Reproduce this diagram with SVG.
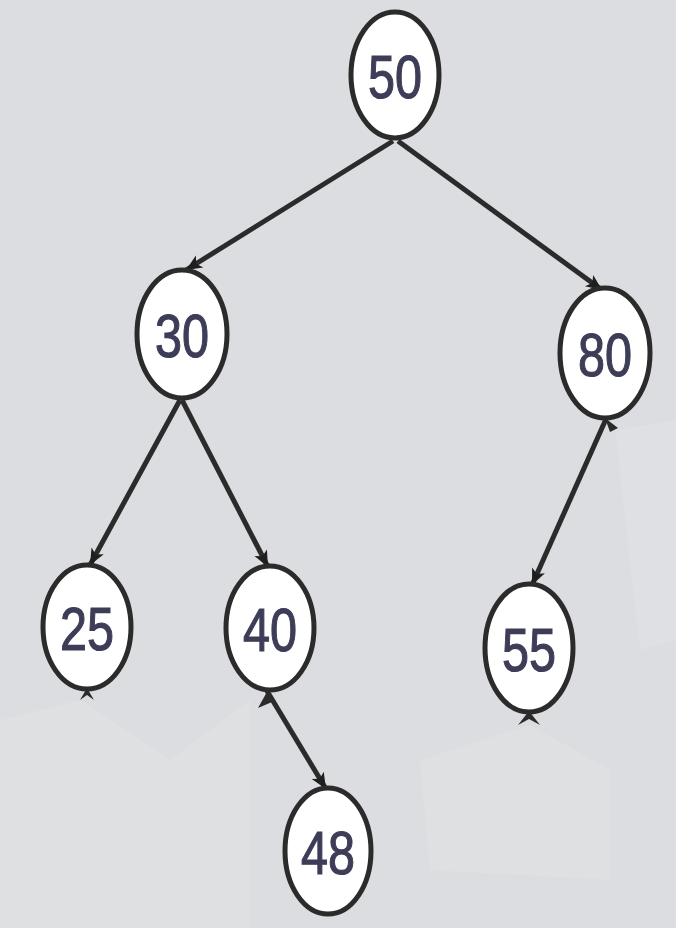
<svg xmlns="http://www.w3.org/2000/svg" width="676" height="928" viewBox="0 0 676 928">
<defs>
<style>
.node ellipse{fill:#ffffff;stroke:#2b2b2b;stroke-width:5}
.node text{font-family:"Liberation Sans",Arial,sans-serif;font-size:62px;fill:#3d3d58;stroke:#3d3d58;stroke-width:1.2;text-anchor:middle}
.edge{stroke:#2b2b2b;stroke-width:5;fill:none;marker-end:url(#arr)}
.stub{fill:#2b2b2b}
</style>
<marker id="arr" markerUnits="userSpaceOnUse" markerWidth="20" markerHeight="20" viewBox="0 0 20 20" refX="18" refY="10" orient="auto">
<path d="M2,3 L18,10 L2,17 L6,10 Z" fill="#1e1e1e"/>
</marker>
</defs>
<rect width="676" height="928" fill="#dcdde0"/>
<g id="smudges" fill="#e4e5e7">
<path d="M0,720 L80,700 L170,760 L250,700 L250,928 L0,928 Z" opacity="0.4"/>
<path d="M420,760 L530,725 L610,770 L610,880 L430,870 Z" opacity="0.4"/>
<path d="M615,430 L676,420 L676,640 L640,650 Z" opacity="0.35"/>
</g>
<g id="connectors">
<line class="edge" x1="393" y1="141" x2="186" y2="270"/>
<line class="edge" x1="398" y1="141" x2="602" y2="290"/>
<line class="edge" x1="180" y1="400" x2="90" y2="565"/>
<line class="edge" x1="182" y1="400" x2="268" y2="567"/>
<line class="edge" x1="606" y1="419" x2="532" y2="585"/>
<line class="edge" x1="267" y1="691" x2="326" y2="789"/>
</g>
<g id="stubs">
<path class="stub" d="M80,700 L87,688 L94,700 L87,695 Z"/>
<path class="stub" d="M258,708 L268,690 L272,702 Z"/>
<path class="stub" d="M518,725 L529,711 L540,725 L529,719 Z"/>
<path class="stub" d="M605,418 L618,428 L610,432 Z"/>
</g>
<g id="n50" class="node"><ellipse cx="395" cy="75" rx="44" ry="63"/><text x="395" y="98" textLength="54" lengthAdjust="spacingAndGlyphs">50</text></g>
<g id="n30" class="node"><ellipse cx="182" cy="334" rx="45" ry="64"/><text x="182" y="357" textLength="54" lengthAdjust="spacingAndGlyphs">30</text></g>
<g id="n80" class="node"><ellipse cx="605" cy="353" rx="45" ry="65"/><text x="605" y="376" textLength="54" lengthAdjust="spacingAndGlyphs">80</text></g>
<g id="n25" class="node"><ellipse cx="87" cy="627" rx="44" ry="62"/><text x="87" y="650" textLength="54" lengthAdjust="spacingAndGlyphs">25</text></g>
<g id="n40" class="node"><ellipse cx="270" cy="628" rx="44" ry="62"/><text x="270" y="651" textLength="54" lengthAdjust="spacingAndGlyphs">40</text></g>
<g id="n55" class="node"><ellipse cx="529" cy="648" rx="44" ry="64"/><text x="529" y="671" textLength="54" lengthAdjust="spacingAndGlyphs">55</text></g>
<g id="n48" class="node"><ellipse cx="328" cy="851" rx="43" ry="63"/><text x="328" y="874" textLength="54" lengthAdjust="spacingAndGlyphs">48</text></g>
</svg>
